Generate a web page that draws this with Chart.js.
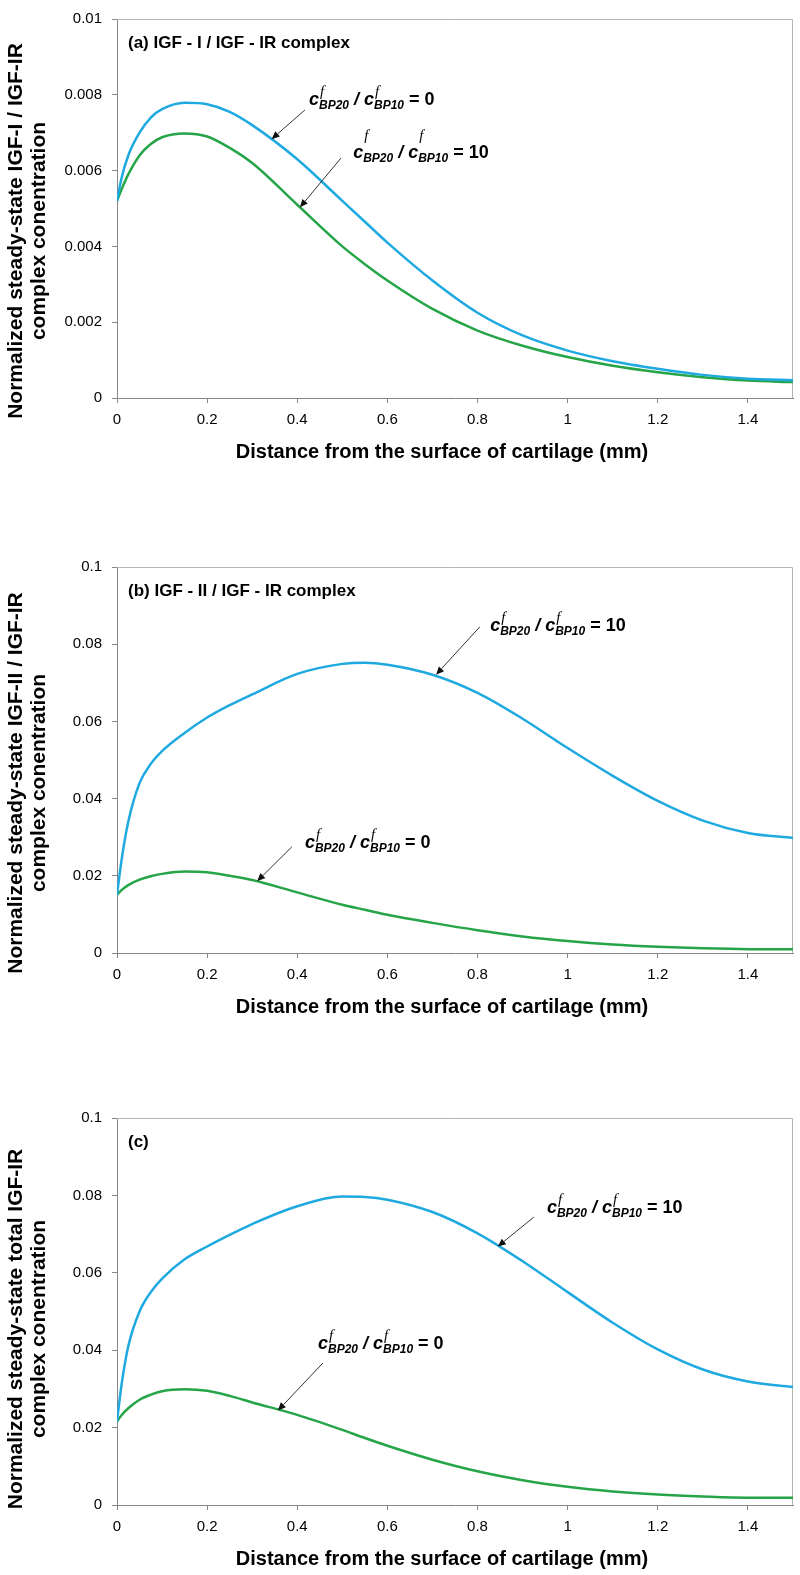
<!DOCTYPE html>
<html>
<head>
<meta charset="utf-8">
<script src="https://cdn.jsdelivr.net/npm/chart.js@4.4.1/dist/chart.umd.min.js"></script>
<style>
  html, body { margin: 0; padding: 0; background: #fff; }
  #page { position: relative; width: 800px; height: 1575px; overflow: hidden; background: #fff; }
  .panel { position: absolute; left: 0; width: 800px; }
</style>
</head>
<body>
<div id="page">
  <div class="panel" style="top:0px"><canvas id="chartA" width="800" height="520"></canvas></div>
  <div class="panel" style="top:520px"><canvas id="chartB" width="800" height="540"></canvas></div>
  <div class="panel" style="top:1060px"><canvas id="chartC" width="800" height="515"></canvas></div>
</div>
<script>
// ===============================
// DATA
// ===============================
const distance = [0, 0.01, 0.025, 0.05, 0.075, 0.1, 0.15, 0.2, 0.25, 0.3, 0.4, 0.5, 0.55, 0.6, 0.7, 0.8, 0.9, 1.0, 1.1, 1.2, 1.3, 1.4, 1.5];
const xTicks = [0, 0.2, 0.4, 0.6, 0.8, 1, 1.2, 1.4];
const yTicksSmall = [0, 0.002, 0.004, 0.006, 0.008, 0.01];
const yTicksLarge = [0, 0.02, 0.04, 0.06, 0.08, 0.1];

// (a) IGF-I / IGF-IR complex
const igf1Ratio0  = [0.0052, 0.0058, 0.0064, 0.0070, 0.0074, 0.00762, 0.00779, 0.00775, 0.00755, 0.0072, 0.0063, 0.0052, 0.00465, 0.0041, 0.0031, 0.00225, 0.00165, 0.00125, 0.00097, 0.00077, 0.00061, 0.00051, 0.00047];
const igf1Ratio10 = [0.0052, 0.0055, 0.0059, 0.0064, 0.0067, 0.00688, 0.00698, 0.0069, 0.0066, 0.0062, 0.0051, 0.0040, 0.00353, 0.0031, 0.00235, 0.00178, 0.00138, 0.00108, 0.00085, 0.00068, 0.00055, 0.00046, 0.00042];

// (b) IGF-II / IGF-IR complex
const igf2Ratio10 = [0.0151, 0.024, 0.034, 0.044, 0.049, 0.0523, 0.057, 0.061, 0.0642, 0.067, 0.0723, 0.0749, 0.0752, 0.0747, 0.0721, 0.0674, 0.0607, 0.0531, 0.0459, 0.0394, 0.0343, 0.0311, 0.0298];
const igf2Ratio0  = [0.0151, 0.0163, 0.0176, 0.0190, 0.0199, 0.0205, 0.0211, 0.0209, 0.0200, 0.0189, 0.0157, 0.0125, 0.0112, 0.0099, 0.0078, 0.0059, 0.0043, 0.0031, 0.0022, 0.0016, 0.0012, 0.001, 0.001];

// (c) total IGF-IR complex
const totalRatio10 = [0.0216, 0.031, 0.041, 0.050, 0.055, 0.0585, 0.0635, 0.0668, 0.0698, 0.0726, 0.0772, 0.0797, 0.0796, 0.0789, 0.0757, 0.0702, 0.0630, 0.0550, 0.0471, 0.0402, 0.0350, 0.0319, 0.0305];
const totalRatio0  = [0.0216, 0.0232, 0.025, 0.0272, 0.0285, 0.0294, 0.0299, 0.0295, 0.0282, 0.0265, 0.0233, 0.0194, 0.0173, 0.0153, 0.0117, 0.0087, 0.0064, 0.0047, 0.0035, 0.0027, 0.0022, 0.0019, 0.0019];


// ===============================
// STYLE
// ===============================
const BLUE = "#1ea9e1";
const GREEN = "#25a548";
const AXIS = "#868686";
const FRAME = "#b4b4b4";
const SANS = '"Liberation Sans", Arial, sans-serif';
const X_TITLE = "Distance from the surface of cartilage (mm)";


// ===============================
// DRAWING HELPERS
// ===============================
function drawArrow(ctx, x0, y0, x1, y1) {
    const ang = Math.atan2(y1 - y0, x1 - x0);
    const cos = Math.cos(ang), sin = Math.sin(ang);
    const head = 8, half = 3.5;
    ctx.save();
    ctx.strokeStyle = "#333";
    ctx.lineWidth = 1;
    ctx.beginPath();
    ctx.moveTo(x0, y0);
    ctx.lineTo(x1 - head * cos, y1 - head * sin);
    ctx.stroke();
    ctx.fillStyle = "#111";
    ctx.beginPath();
    ctx.moveTo(x1, y1);
    ctx.lineTo(x1 - head * cos + half * sin, y1 - head * sin - half * cos);
    ctx.lineTo(x1 - head * cos - half * sin, y1 - head * sin + half * cos);
    ctx.closePath();
    ctx.fill();
    ctx.restore();
}

// c^f_BP20 / c^f_BP10 = value, x/y = left end of the baseline
function drawRatio(ctx, x, y, value, supRise) {
    ctx.save();
    ctx.fillStyle = "#000";
    ctx.textAlign = "left";
    ctx.textBaseline = "alphabetic";
    let cx = x;
    const piece = (text, font, dx, dy) => {
        ctx.font = font;
        ctx.fillText(text, cx + dx, y + dy);
        return ctx.measureText(text).width;
    };
    const conc = sub => {
        cx += piece("c", "italic bold 18px " + SANS, 0, 0);
        piece("f", 'italic 15px "Liberation Serif", serif', 1, -supRise);
        cx += piece(sub, "italic bold 12px " + SANS, 0, 4);
    };
    conc("BP20");
    cx += piece(" / ", "italic bold 18px " + SANS, 0, 0);
    conc("BP10");
    piece(" = " + value, "bold 18px " + SANS, 0, 0);
    ctx.restore();
}

const framePlugin = {
    id: "frame",
    beforeDatasetsDraw(chart) {
        const { ctx, chartArea: a } = chart;
        ctx.save();
        ctx.strokeStyle = FRAME;
        ctx.lineWidth = 1;
        ctx.beginPath();
        ctx.moveTo(a.left, a.top + 0.5);
        ctx.lineTo(a.right - 0.5, a.top + 0.5);
        ctx.lineTo(a.right - 0.5, a.bottom);
        ctx.stroke();
        ctx.restore();
    }
};

const panelTextPlugin = {
    id: "panelText",
    afterDraw(chart, args, opts) {
        const { ctx, chartArea: a, scales: { x, y } } = chart;
        ctx.save();
        ctx.fillStyle = "#000";

        // panel title
        ctx.font = "bold 17px " + SANS;
        ctx.textAlign = "left";
        ctx.textBaseline = "middle";
        ctx.fillText(opts.title, a.left + 11, a.top + 24);

        // x axis title
        ctx.font = "bold 20px " + SANS;
        ctx.textAlign = "center";
        ctx.fillText(X_TITLE, 442, a.bottom + 54);

        // y axis title, two lines
        ctx.font = "bold 21px " + SANS;
        opts.yTitle.forEach((line, i) => {
            ctx.save();
            ctx.translate(16 + i * 23, a.top + opts.yTitleCenter);
            ctx.rotate(-Math.PI / 2);
            ctx.fillText(line, 0, 0);
            ctx.restore();
        });
        ctx.restore();

        // annotations
        opts.notes.forEach(n => {
            drawArrow(ctx,
                x.getPixelForValue(n.tail[0]), y.getPixelForValue(n.tail[1]),
                x.getPixelForValue(n.tip[0]), y.getPixelForValue(n.tip[1]));
            drawRatio(ctx, x.getPixelForValue(n.at[0]), y.getPixelForValue(n.at[1]), n.value, n.supRise || 9);
        });
    }
};


// ===============================
// CHART FACTORY
// ===============================
function makeChart(id, p) {
    const points = vals => distance.map((d, i) => ({ x: d, y: vals[i] }));
    const line = (vals, color) => ({
        data: points(vals),
        borderColor: color,
        borderWidth: 2.5,
        pointRadius: 0,
        fill: false,
        cubicInterpolationMode: "monotone"
    });
    const tickFont = { family: SANS, size: 15 };

    return new Chart(document.getElementById(id), {
        type: "line",
        data: { datasets: [line(p.blue, BLUE), line(p.green, GREEN)] },
        options: {
            responsive: false,
            animation: false,
            layout: { padding: { top: p.padTop, right: 7, left: 0, bottom: 0 } },
            scales: {
                x: {
                    type: "linear",
                    min: 0,
                    max: 1.5,
                    afterBuildTicks: s => { s.ticks = xTicks.map(v => ({ value: v })); },
                    afterFit: s => { s.height = p.xHeight; },
                    ticks: { color: "#000", font: tickFont, padding: 8, maxRotation: 0, callback: v => String(v) },
                    grid: { drawOnChartArea: false, drawTicks: true, tickLength: 5, color: AXIS },
                    border: { color: AXIS, width: 1 }
                },
                y: {
                    type: "linear",
                    min: 0,
                    max: p.yMax,
                    afterBuildTicks: s => { s.ticks = p.yTicks.map(v => ({ value: v })); },
                    afterFit: s => { s.width = 117; },
                    ticks: { color: "#000", font: tickFont, padding: 10, callback: v => String(v) },
                    grid: { drawOnChartArea: false, drawTicks: true, tickLength: 5, color: AXIS },
                    border: { color: AXIS, width: 1 }
                }
            },
            plugins: {
                legend: { display: false },
                tooltip: { enabled: false },
                panelText: {
                    title: p.title,
                    yTitle: p.yTitle,
                    yTitleCenter: p.yTitleCenter,
                    notes: p.notes
                }
            }
        },
        plugins: [framePlugin, panelTextPlugin]
    });
}


// ===============================
// PANELS
// ===============================
makeChart("chartA", {
    blue: igf1Ratio0, green: igf1Ratio10,
    yMax: 0.01, yTicks: yTicksSmall,
    padTop: 11, xHeight: 122,
    title: "(a) IGF - I / IGF - IR complex",
    yTitle: ["Normalized steady-state IGF-I / IGF-IR", "complex conentration"],
    yTitleCenter: 212,
    notes: [
        { value: "0",  at: [0.426, 0.00773], tail: [0.417, 0.0076], tip: [0.343, 0.00683] },
        { value: "10", at: [0.524, 0.00633], tail: [0.497, 0.00633], tip: [0.406, 0.00503], supRise: 18 }
    ]
});

makeChart("chartB", {
    blue: igf2Ratio10, green: igf2Ratio0,
    yMax: 0.1, yTicks: yTicksLarge,
    padTop: 47, xHeight: 107,
    title: "(b) IGF - II / IGF - IR complex",
    yTitle: ["Normalized steady-state IGF-II / IGF-IR", "complex conentration"],
    yTitleCenter: 216,
    notes: [
        { value: "10", at: [0.828, 0.0834], tail: [0.805, 0.0845], tip: [0.708, 0.0721] },
        { value: "0",  at: [0.417, 0.0272], tail: [0.388, 0.0275], tip: [0.311, 0.0186] }
    ]
});

makeChart("chartC", {
    blue: totalRatio10, green: totalRatio0,
    yMax: 0.1, yTicks: yTicksLarge,
    padTop: 58, xHeight: 70,
    title: "(c)",
    yTitle: ["Normalized steady-state total IGF-IR", "complex conentration"],
    yTitleCenter: 211,
    notes: [
        { value: "10", at: [0.954, 0.0755], tail: [0.925, 0.0744], tip: [0.845, 0.0668] },
        { value: "0",  at: [0.446, 0.0403], tail: [0.457, 0.0367], tip: [0.357, 0.0244] }
    ]
});
</script>
</body>
</html>
